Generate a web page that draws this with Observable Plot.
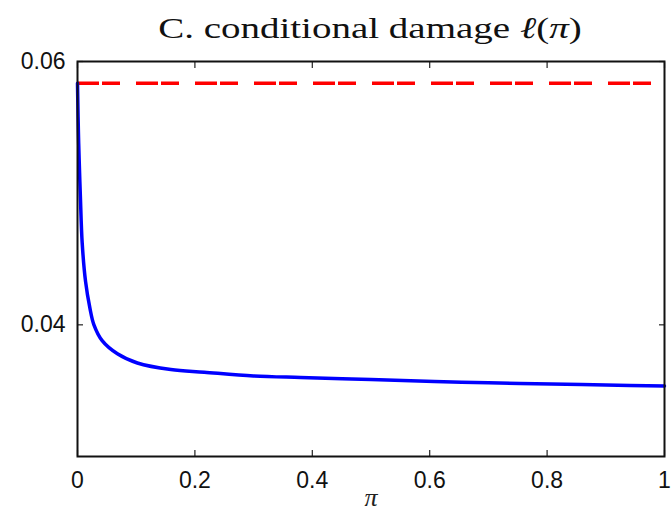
<!DOCTYPE html>
<html>
<head>
<meta charset="utf-8">
<script src="https://cdn.jsdelivr.net/npm/d3@7"></script>
<script src="https://cdn.jsdelivr.net/npm/@observablehq/plot@0.6"></script>
<style>
  html, body { margin: 0; padding: 0; background: #fff; }
  #title {
    width: 671px; height: 47px; box-sizing: border-box;
    padding-left: 77px; padding-right: 8px;
    text-align: center;
    font-family: "Liberation Serif", "DejaVu Serif", serif;
    font-size: 30px; line-height: 47px; color: #111;
    white-space: nowrap;
  }
  #title span { display: inline-block; transform: translateY(4px) scaleX(1.3); transform-origin: center; }
</style>
</head>
<body>
<div id="title"><span>C. conditional damage <i>ℓ</i>(<i>π</i>)</span></div>
<div id="chart"></div>
<script>
// Data
const piValues = [0, 0.001, 0.002, 0.0035, 0.005, 0.008, 0.0137, 0.021, 0.028, 0.042, 0.068, 0.102, 0.159, 0.216, 0.3, 0.38, 0.5, 0.608, 0.7, 0.807, 0.9, 1.0];
const damageValues = [0.05835, 0.0558, 0.0538, 0.0516, 0.0496, 0.0462, 0.0433, 0.0413, 0.0400, 0.0388, 0.0378, 0.0371, 0.0366, 0.0364, 0.03612, 0.0360, 0.03585, 0.0357, 0.0356, 0.0355, 0.03543, 0.03536];
const unconditionalDamage = [0.05835];
const xTicks = [0, 0.2, 0.4, 0.6, 0.8, 1];
const yTicks = [0.04, 0.06];
const xDomain = [0, 1];
const yDomain = [0.03, 0.06];

const curve = piValues.map((p, i) => ({pi: p, damage: damageValues[i]}));

const tickFont = "'Liberation Sans', Arial, Helvetica, sans-serif";
const noLabel = () => "";

const plot = Plot.plot({
  width: 671,
  height: 473,
  marginTop: 14,
  marginBottom: 64,
  marginLeft: 77,
  marginRight: 7,
  style: {background: "#fff", color: "#111"},
  x: {domain: xDomain},
  y: {domain: yDomain},
  marks: [
    Plot.axisX({anchor: "bottom", ticks: xTicks, tickSize: -6, tickPadding: 21, tickFormat: d => String(d), fontSize: 23, fontFamily: tickFont, label: null, stroke: "#222", strokeWidth: 1.2}),
    Plot.axisX({anchor: "top", ticks: xTicks, tickSize: -6, tickFormat: noLabel, label: null, stroke: "#222", strokeWidth: 1.2}),
    Plot.axisY({anchor: "left", ticks: yTicks, tickSize: -6, tickPadding: 18, tickFormat: d => d.toFixed(2), fontSize: 23, fontFamily: tickFont, label: null, stroke: "#222", strokeWidth: 1.2}),
    Plot.axisY({anchor: "right", ticks: yTicks, tickSize: -6, tickFormat: noLabel, label: null, stroke: "#222", strokeWidth: 1.2}),
    Plot.ruleY(unconditionalDamage, {stroke: "#ff0000", strokeWidth: 3.5, strokeDasharray: "22,3,18,16"}),
    Plot.line(curve, {x: "pi", y: "damage", stroke: "#0000ff", strokeWidth: 3.5, curve: "catmull-rom"}),
    Plot.frame({stroke: "#111", strokeWidth: 2}),
    Plot.text(["π"], {frameAnchor: "bottom", dy: 49, fontSize: 26, fontStyle: "italic", fontFamily: "'Liberation Serif', 'DejaVu Serif', serif", fill: "#222"})
  ]
});
document.getElementById("chart").appendChild(plot);
</script>
</body>
</html>
